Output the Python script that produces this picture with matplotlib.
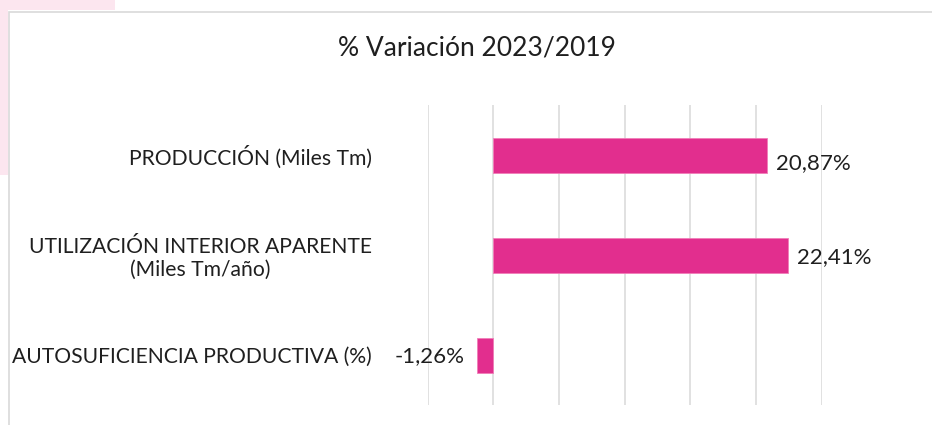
import matplotlib.pyplot as plt
from matplotlib.patches import Rectangle

plt.rcParams['font.family'] = ['Lato', 'DejaVu Sans']

# data
categories = ['PRODUCCIÓN (Miles Tm)',
              'UTILIZACIÓN INTERIOR APARENTE\n(Miles Tm/año)',
              'AUTOSUFICIENCIA PRODUCTIVA (%)']
values = [20.87, 22.41, -1.26]
value_labels = ['20,87%', '22,41%', '-1,26%']
title = '% Variación 2023/2019'

bar_color = '#E22E8E'
grid_color = '#D9D9D9'
text_color = '#1F1F1F'

fig = plt.figure(figsize=(9.32, 4.25), dpi=100)

# pink page background peeking in at the top-left corner
fig.patches.append(Rectangle((0, 1 - 10/425), 115/932, 10/425, transform=fig.transFigure,
                             facecolor='#FCE6EF', edgecolor='none', zorder=-3))
fig.patches.append(Rectangle((0, 1 - 175/425), 8/932, 175/425, transform=fig.transFigure,
                             facecolor='#FCE6EF', edgecolor='none', zorder=-3))
# chart frame
fig.patches.append(Rectangle((9/932, -0.1), 1.0, 1 - 12/425 + 0.1, transform=fig.transFigure,
                             facecolor='white', edgecolor=grid_color, lw=1.2, zorder=-2))

ax = fig.add_axes([427.7/932, 20/425, (821.5 - 427.7)/932, 300/425])
ax.set_facecolor('none')

ypos = list(range(len(categories)))
ax.barh(ypos, values, height=0.35, color=bar_color, edgecolor='#F07DB8', lw=0.6, zorder=3)

ax.set_xlim(-5, 25)
ax.set_ylim(2.5, -0.5)
ax.set_xticks(range(-5, 26, 5))
ax.xaxis.grid(True, color=grid_color, lw=1.1, zorder=0)
ax.tick_params(axis='x', length=0, labelbottom=False)
ax.tick_params(axis='y', length=0, pad=40, labelsize=15.2, labelcolor=text_color)
ax.set_yticks(ypos)
ax.set_yticklabels(categories)
for lbl in ax.get_yticklabels():
    lbl.set_multialignment('center')
    lbl.set_linespacing(1.15)
for s in ax.spines.values():
    s.set_visible(False)

dy = [-6, -1.5, -1]
for y, v, t, d in zip(ypos, values, value_labels, dy):
    if v >= 0:
        ax.annotate(t, (v, y), xytext=(6.5, d), textcoords='offset points',
                    ha='left', va='center', fontsize=16, color=text_color)
    else:
        ax.annotate(t, (v, y), xytext=(-9, d), textcoords='offset points',
                    ha='right', va='center', fontsize=16, color=text_color)

fig.text(477/932, 1 - 48/425, title, ha='center', va='center', fontsize=19, color=text_color)

fig.savefig('out.png', dpi=100)
